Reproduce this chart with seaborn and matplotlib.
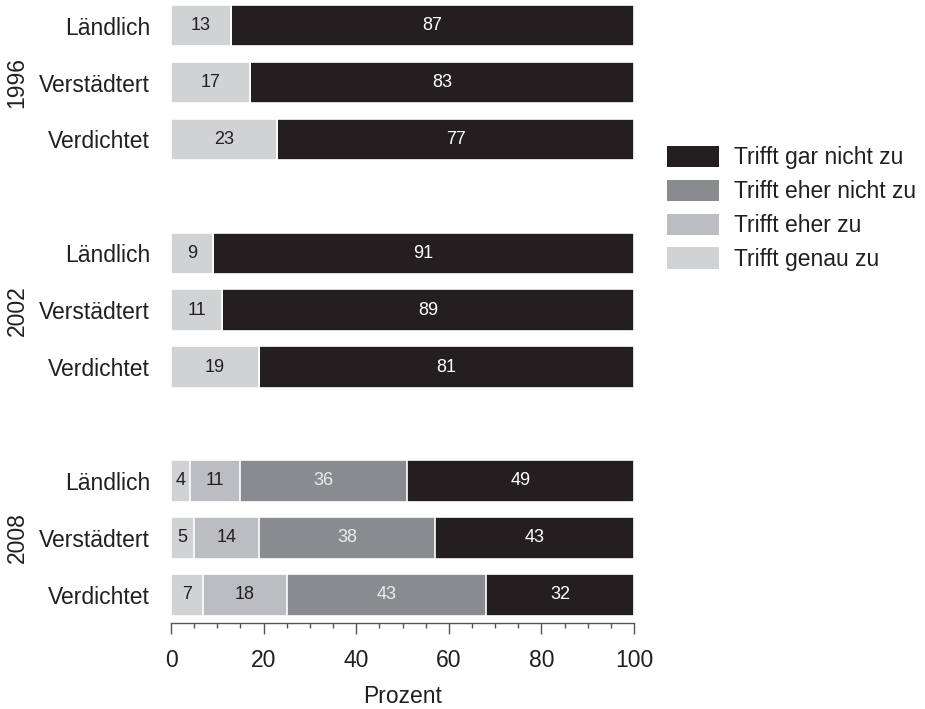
import numpy as np
import pandas as pd
import matplotlib
matplotlib.use("Agg")
import matplotlib.pyplot as plt
from matplotlib.ticker import MultipleLocator
from matplotlib.patches import Patch
from matplotlib.transforms import blended_transform_factory
import seaborn as sns

# ---------------- data ----------------
years = ["1996", "2002", "2008"]
regions = ["Ländlich", "Verstädtert", "Verdichtet"]
categories = ["Trifft genau zu", "Trifft eher zu", "Trifft eher nicht zu", "Trifft gar nicht zu"]
genau_zu = [13, 17, 23, 9, 11, 19, 4, 5, 7]
eher_zu = [0, 0, 0, 0, 0, 0, 11, 14, 18]
eher_nicht_zu = [0, 0, 0, 0, 0, 0, 36, 38, 43]
gar_nicht_zu = [87, 83, 77, 91, 89, 81, 49, 43, 32]
xticks = [0, 20, 40, 60, 80, 100]

# ---------------- style ----------------
sns.set_theme(style="ticks")
plt.rcParams["font.family"] = ["Liberation Sans", "DejaVu Sans"]

colors = {
    "Trifft genau zu": "#d1d2d4",
    "Trifft eher zu": "#bcbdc0",
    "Trifft eher nicht zu": "#8a8b8e",
    "Trifft gar nicht zu": "#231f20",
}
text_colors = {
    "Trifft genau zu": "#231f20",
    "Trifft eher zu": "#231f20",
    "Trifft eher nicht zu": "#ececec",
    "Trifft gar nicht zu": "#ffffff",
}
FS = 16.5

fig = plt.figure(figsize=(9.25, 7.09), dpi=100)
ax = fig.add_axes([171 / 925, 1 - 623.3 / 709, (634 - 171) / 925, 623.3 / 709])

pos = []
for gi in range(len(years)):
    for ri in range(len(regions)):
        pos.append(gi * 4 + ri)

series = np.array([genau_zu, eher_zu, eher_nicht_zu, gar_nicht_zu], dtype=float)
cum = np.cumsum(series, axis=0)
starts = cum - series

# draw cumulative bars from the total down so segments stack
for k in range(len(categories) - 1, -1, -1):
    cat = categories[k]
    df = pd.DataFrame({"pos": pos, "end": cum[k]})
    sns.barplot(data=df, x="end", y="pos", orient="h", native_scale=True,
                width=0.73, color=colors[cat], saturation=1,
                edgecolor="white", linewidth=1.2, ax=ax, errorbar=None)

# segment labels
for k, cat in enumerate(categories):
    for i, p in enumerate(pos):
        v = series[k, i]
        if v > 0:
            ax.text(starts[k, i] + v / 2, p, f"{int(v)}", ha="center", va="center",
                    fontsize=13, color=text_colors[cat])

ax.set_xlim(0, 100)
ax.set_ylim(10.5, -0.45)
ax.set_yticks(pos)
ax.set_yticklabels(regions * len(years))
ax.set_xticks(xticks)
ax.xaxis.set_minor_locator(MultipleLocator(5))
ax.tick_params(axis="y", length=0, pad=15, labelsize=FS, colors="#231f20")
ax.tick_params(axis="x", which="major", direction="out", length=7.7, width=1,
               color="#555555", labelsize=FS, labelcolor="#231f20", pad=10.5)
ax.tick_params(axis="x", which="minor", direction="out", length=3.6, width=1,
               color="#555555")
for s in ["left", "top", "right"]:
    ax.spines[s].set_visible(False)
ax.spines["bottom"].set_color("#555555")
ax.spines["bottom"].set_linewidth(1)
ax.set_ylabel("")
ax.set_xlabel("Prozent", fontsize=FS, color="#231f20", labelpad=10)

# year labels
tr = blended_transform_factory(fig.transFigure, ax.transData)
for gi, y in enumerate(years):
    ax.text(17 / 925, gi * 4 + 1, y, transform=tr, rotation=90, ha="center",
            va="center", fontsize=FS, color="#231f20")

# legend
handles = [Patch(facecolor=colors[c], edgecolor="none", label=c) for c in categories[::-1]]
fig.legend(handles=handles, loc="upper left", bbox_to_anchor=(667 / 925, 1 - 146 / 709),
           frameon=False, fontsize=FS, handlelength=2.27, handleheight=1.05,
           handletextpad=0.65, labelspacing=0.45, borderpad=0, borderaxespad=0,
           labelcolor="#231f20")

fig.savefig("out.png", dpi=100, facecolor="white")
